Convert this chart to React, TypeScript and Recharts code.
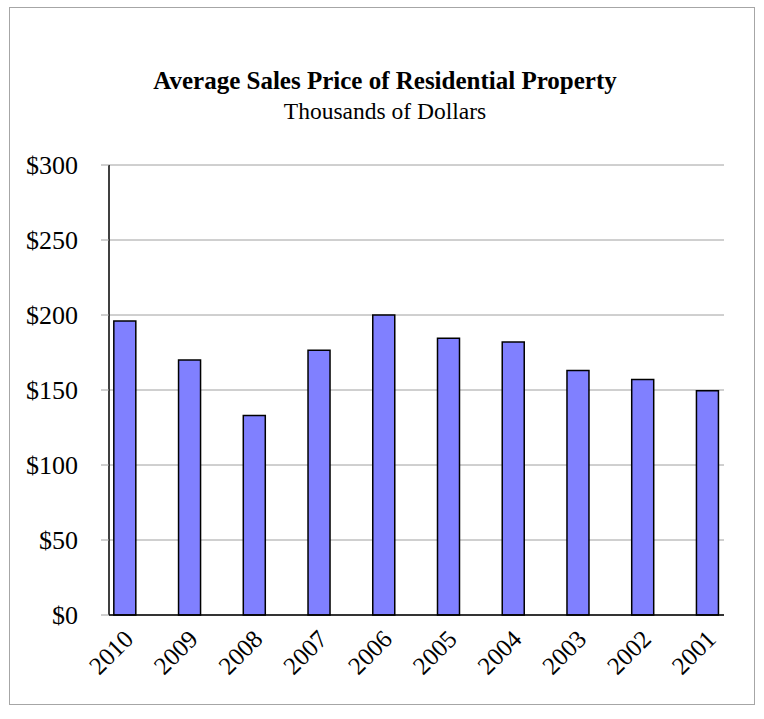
import { BarChart, Bar, XAxis, YAxis, CartesianGrid } from 'recharts';

const years = ['2010', '2009', '2008', '2007', '2006', '2005', '2004', '2003', '2002', '2001'];
const prices = [196, 170, 133, 176.5, 200, 184.5, 182, 163, 157, 149.5];
const priceTicks = [0, 50, 100, 150, 200, 250, 300];

const data = years.map((year, i) => ({ idx: i, year, price: prices[i] }));
// tick marks sit a quarter slot either side of each bar, like the original sheet
const slotTicks = years.flatMap((_, i) => [i - 0.25, i + 0.25]);
const labelTicks = years.map((_, i) => i);

const serif = '"Liberation Serif", "Times New Roman", serif';

export default function App() {
  return (
    <div style={{ position: 'absolute', left: 0, top: 0, width: 764, height: 719, background: '#fff', fontFamily: serif }}>
      <div
        style={{
          position: 'absolute',
          left: 9,
          top: 7,
          width: 746,
          height: 698,
          border: '1px solid #a6a6a6',
          boxSizing: 'border-box',
        }}
      />
      <div style={{ position: 'absolute', left: 0, width: 770, top: 66, textAlign: 'center', color: '#000' }}>
        <div style={{ fontWeight: 'bold', fontSize: 25, lineHeight: '30px' }}>Average Sales Price of Residential Property</div>
        <div style={{ fontSize: 23.5, lineHeight: '30px' }}>Thousands of Dollars</div>
      </div>
      <BarChart
        width={764}
        height={719}
        data={data}
        margin={{ top: 165, right: 40, bottom: 13, left: 9 }}
        style={{ position: 'absolute', left: 0, top: 0 }}
      >
        <CartesianGrid vertical={false} stroke="#a0a0a0" />
        <XAxis
          xAxisId="b"
          dataKey="idx"
          type="number"
          domain={[-0.25, years.length - 0.75]}
          allowDataOverflow
          ticks={labelTicks}
          tickFormatter={(i: number) => years[i]}
          interval={0}
          height={90}
          axisLine={false}
          tickLine={false}
          tickMargin={6}
          angle={-45}
          textAnchor="end"
          tick={{ fill: '#000', fontSize: 25, fontFamily: serif, dx: -3 }}
        />
        <XAxis
          xAxisId="a"
          dataKey="idx"
          type="number"
          domain={[-0.25, years.length - 0.75]}
          allowDataOverflow
          ticks={slotTicks}
          tick={false}
          height={1}
          tickSize={7}
          axisLine={{ stroke: '#000', strokeWidth: 1.5 }}
          tickLine={{ stroke: '#a0a0a0' }}
        />
        <YAxis
          domain={[0, 300]}
          ticks={priceTicks}
          tickFormatter={(v: number) => `$${v}`}
          width={100}
          tickSize={8}
          tickMargin={23}
          axisLine={{ stroke: '#000', strokeWidth: 1.5 }}
          tickLine={{ stroke: '#a0a0a0' }}
          tick={{ fill: '#000', fontSize: 26, fontFamily: serif }}
        />
        <Bar
          xAxisId="a"
          dataKey="price"
          barSize={22}
          fill="#8080ff"
          stroke="#000"
          strokeWidth={1.5}
          isAnimationActive={false}
        />
      </BarChart>
    </div>
  );
}
